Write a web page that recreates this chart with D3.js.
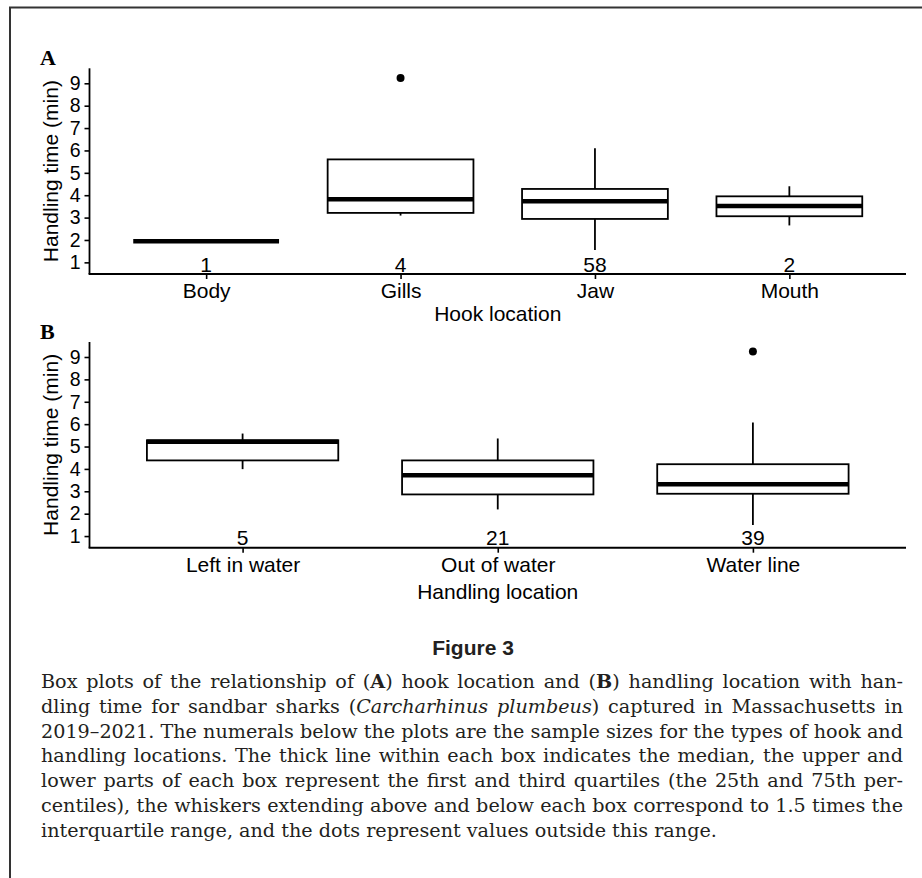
<!DOCTYPE html>
<html>
<head>
<meta charset="utf-8">
<script src="https://cdn.jsdelivr.net/npm/d3@7"></script>
<style>
  html, body { margin: 0; padding: 0; background: #fff; }
  svg { display: block; }
</style>
</head>
<body>
<svg id="chart" width="922" height="878"></svg>
<script>
// ---------------- DATA ----------------
const yTicks = [1, 2, 3, 4, 5, 6, 7, 8, 9];

const hookCategories   = ["Body", "Gills", "Jaw", "Mouth"];
const hookN            = [1, 4, 58, 2];
const hookWhiskerLow   = [1.94, 3.09, 1.55, 2.65];
const hookQ1           = [1.94, 3.21, 2.94, 3.06];
const hookMedian       = [1.94, 3.82, 3.73, 3.52];
const hookQ3           = [1.94, 5.60, 4.28, 3.95];
const hookWhiskerHigh  = [1.94, 5.60, 6.10, 4.40];
const hookOutliers     = [[], [9.24], [], []];

const handCategories   = ["Left in water", "Out of water", "Water line"];
const handN            = [5, 21, 39];
const handWhiskerLow   = [3.99, 2.19, 1.49];
const handQ1           = [4.38, 2.86, 2.89];
const handMedian       = [5.21, 3.72, 3.31];
const handQ3           = [5.28, 4.38, 4.21];
const handWhiskerHigh  = [5.58, 5.36, 6.07];
const handOutliers     = [[], [], [9.25]];

const nLabelY = 0.9;
const yDomain = [0.48, 9.67];

// ---------------- DRAW ----------------
const svg = d3.select("#chart");
const SANS = "'Liberation Sans', Arial, Helvetica, sans-serif";
const SERIF = "'Liberation Serif', 'Times New Roman', serif";

// frame
svg.append("path")
  .attr("d", "M10,890 L10,7.5 L930,7.5")
  .attr("fill", "none").attr("stroke", "#333").attr("stroke-width", 2);

function panel(opts) {
  const { cats, n, wlo, q1, med, q3, whi, outl, top, bottom, letter, letterY, xTitle, xTitleY } = opts;
  const left = 89.5, right = 906;
  const g = svg.append("g");

  const x = d3.scalePoint().domain(cats).range([left, right]).padding(0.6);
  const y = d3.scaleLinear().domain(yDomain).range([bottom, top]);
  const bw = x.step() * 0.75;

  const rows = cats.map((c, i) => ({ c, n: n[i], wlo: wlo[i], q1: q1[i], med: med[i], q3: q3[i], whi: whi[i], outl: outl[i] }));

  const box = g.selectAll("g.box").data(rows).join("g").attr("class", "box");
  box.append("line")
    .attr("x1", d => x(d.c)).attr("x2", d => x(d.c))
    .attr("y1", d => y(d.q3)).attr("y2", d => y(d.whi))
    .attr("stroke", "#000").attr("stroke-width", 1.8);
  box.append("line")
    .attr("x1", d => x(d.c)).attr("x2", d => x(d.c))
    .attr("y1", d => y(d.q1)).attr("y2", d => y(d.wlo))
    .attr("stroke", "#000").attr("stroke-width", 1.8);
  box.append("rect")
    .attr("x", d => x(d.c) - bw / 2).attr("width", bw)
    .attr("y", d => y(d.q3)).attr("height", d => Math.max(0, y(d.q1) - y(d.q3)))
    .attr("fill", "#fff").attr("stroke", "#000").attr("stroke-width", 1.8);
  box.append("line")
    .attr("x1", d => x(d.c) - bw / 2).attr("x2", d => x(d.c) + bw / 2)
    .attr("y1", d => y(d.med)).attr("y2", d => y(d.med))
    .attr("stroke", "#000").attr("stroke-width", 4.5);
  box.selectAll("circle").data(d => d.outl.map(v => ({ c: d.c, v }))).join("circle")
    .attr("cx", d => x(d.c)).attr("cy", d => y(d.v)).attr("r", 4).attr("fill", "#000");
  box.append("text")
    .attr("x", d => x(d.c)).attr("y", y(nLabelY)).attr("dy", "0.33em")
    .attr("text-anchor", "middle")
    .attr("font-family", SANS).attr("font-size", 21).attr("fill", "#000")
    .text(d => d.n);

  const yAxis = d3.axisLeft(y).tickValues(yTicks).tickSize(5).tickPadding(4).tickFormat(d3.format("d"));
  const ya = g.append("g").attr("transform", `translate(${left},0)`).call(yAxis);
  ya.select(".domain").attr("d", `M0,${top}V${bottom}`).attr("stroke", "#000").attr("stroke-width", 1.8);
  ya.selectAll(".tick line").attr("stroke", "#000").attr("stroke-width", 1.6);
  ya.selectAll(".tick text").attr("font-family", SANS).attr("font-size", 19.5).attr("fill", "#000");

  const xAxis = d3.axisBottom(x).tickSize(5).tickPadding(3);
  const xa = g.append("g").attr("transform", `translate(0,${bottom})`).call(xAxis);
  xa.select(".domain").attr("d", `M${left - 0.9},0H${right}`).attr("stroke", "#000").attr("stroke-width", 1.9);
  xa.selectAll(".tick line").attr("stroke", "#000").attr("stroke-width", 1.6);
  xa.selectAll(".tick text").attr("font-family", SANS).attr("font-size", 21).attr("fill", "#000").attr("dy", "0.78em");

  g.append("text")
    .attr("transform", `translate(57.5,${(top + bottom) / 2}) rotate(-90)`)
    .attr("text-anchor", "middle")
    .attr("font-family", SANS).attr("font-size", 21).attr("fill", "#000")
    .text("Handling time (min)");

  g.append("text")
    .attr("x", (left + right) / 2).attr("y", xTitleY)
    .attr("text-anchor", "middle")
    .attr("font-family", SANS).attr("font-size", 21).attr("fill", "#000")
    .text(xTitle);

  g.append("text")
    .attr("x", 40).attr("y", letterY)
    .attr("font-family", SERIF).attr("font-weight", "bold").attr("font-size", 22).attr("fill", "#000")
    .text(letter);
}

panel({
  cats: hookCategories, n: hookN, wlo: hookWhiskerLow, q1: hookQ1, med: hookMedian, q3: hookQ3,
  whi: hookWhiskerHigh, outl: hookOutliers, top: 68.3, bottom: 274,
  letter: "A", letterY: 64.5, xTitle: "Hook location", xTitleY: 321
});
panel({
  cats: handCategories, n: handN, wlo: handWhiskerLow, q1: handQ1, med: handMedian, q3: handQ3,
  whi: handWhiskerHigh, outl: handOutliers, top: 342, bottom: 547.7,
  letter: "B", letterY: 338.5, xTitle: "Handling location", xTitleY: 599
});

// ---------------- CAPTION ----------------
svg.append("text")
  .attr("x", 473).attr("y", 655)
  .attr("text-anchor", "middle")
  .attr("font-family", SANS).attr("font-weight", "bold").attr("font-size", 21).attr("fill", "#231f20")
  .text("Figure 3");

const captionLines = [
  [["Box plots of the relationship of (", ""], ["A", "b"], [") hook location and (", ""], ["B", "b"], [") handling location with han-", ""]],
  [["dling time for sandbar sharks (", ""], ["Carcharhinus plumbeus", "i"], [") captured in Massachusetts in", ""]],
  [["2019–2021. The numerals below the plots are the sample sizes for the types of hook and", ""]],
  [["handling locations. The thick line within each box indicates the median, the upper and", ""]],
  [["lower parts of each box represent the first and third quartiles (the 25th and 75th per-", ""]],
  [["centiles), the whiskers extending above and below each box correspond to 1.5 times the", ""]],
  [["interquartile range, and the dots represent values outside this range.", ""]]
];
const capLeft = 41, capRight = 903, capTop = 688, capLead = 24.8;
const capFont = "'DejaVu Serif', serif";
const capTexts = captionLines.map((segs, i) => {
  const t = svg.append("text")
    .attr("x", capLeft).attr("y", capTop + i * capLead)
    .attr("font-family", capFont).attr("font-size", 16).attr("fill", "#231f20")
    .attr("xml:space", "preserve");
  segs.forEach(([s, st]) => {
    const ts = t.append("tspan").text(s);
    if (st === "b") ts.attr("font-weight", "bold");
    if (st === "i") ts.attr("font-style", "italic");
  });
  return t;
});
const maxW = d3.max(capTexts.slice(0, -1), t => t.node().getComputedTextLength());
const capSize = 16 * (capRight - capLeft) / maxW * 1.0;
capTexts.forEach(t => t.attr("font-size", capSize));
capTexts.forEach((t, i) => {
  if (i < capTexts.length - 1) {
    const full = captionLines[i].map(s => s[0]).join("");
    const spaces = (full.match(/ /g) || []).length;
    const w = t.node().getComputedTextLength();
    t.style("word-spacing", ((capRight - capLeft - w) / spaces) + "px");
  }
});
</script>
</body>
</html>
